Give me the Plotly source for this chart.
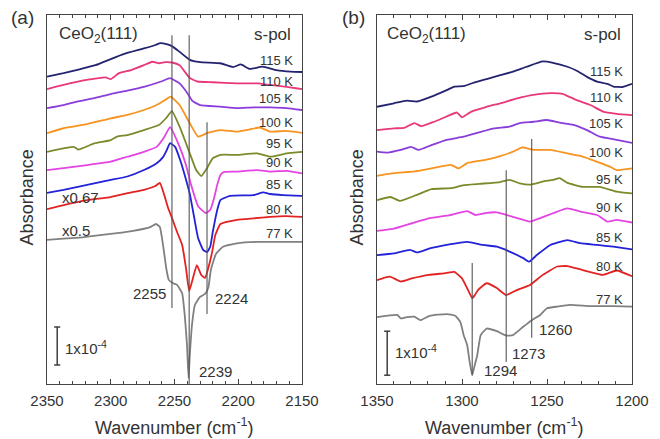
import plotly.graph_objects as go

FONT = "Liberation Sans, Arial, sans-serif"
TXT = "#333333"

TEMPS = ["115 K", "110 K", "105 K", "100 K", "95 K", "90 K", "85 K", "80 K", "77 K"]
COLORS = ["#23236f", "#e8387a", "#8a3ddb", "#f7931e", "#7b8b2b",
          "#e344e3", "#2222d8", "#e32222", "#808080"]

# ---------------- panel (a): CO region, absorbance in 1e-4 units (stacked) -------------
A_WN_115 = [2350, 2337, 2327, 2312, 2300, 2290, 2274, 2265, 2261, 2257, 2252, 2246, 2238, 2230,
            2214, 2204, 2198, 2191, 2181, 2170, 2159, 2150]
A_AB_115 = [8.09, 8.18, 8.26, 8.39, 8.55, 8.68, 8.83, 8.92, 8.97, 8.95, 8.89, 8.74, 8.53, 8.47,
            8.44, 8.34, 8.41, 8.29, 8.35, 8.26, 8.22, 8.21]

A_WN_110 = [2350, 2337, 2319, 2304, 2300, 2293.5, 2284, 2274, 2267.5, 2262, 2257.5, 2252, 2246,
            2238, 2232, 2220, 2201, 2185, 2175, 2162, 2150]
A_AB_110 = [7.76, 7.87, 8.00, 8.07, 8.02, 8.18, 8.26, 8.39, 8.48, 8.44, 8.47, 8.46, 8.39,
            8.05, 7.96, 7.94, 7.91, 7.91, 7.87, 7.82, 7.76]

A_WN_105 = [2350, 2337, 2326.5, 2313, 2300, 2287, 2274, 2260.5, 2253.5, 2246, 2240, 2236, 2230,
            2214, 2201, 2188, 2175, 2162, 2150]
A_AB_105 = [7.26, 7.34, 7.43, 7.52, 7.63, 7.72, 7.82, 7.96, 8.05, 7.91, 7.66, 7.45, 7.34,
            7.30, 7.26, 7.28, 7.28, 7.26, 7.21]

A_WN_100 = [2350, 2337, 2318.5, 2300, 2287, 2274, 2264, 2257.5, 2253, 2246, 2238, 2231.5, 2224.5,
            2214, 2201, 2191, 2183, 2175, 2163, 2150]
A_AB_100 = [6.60, 6.73, 6.84, 6.99, 7.08, 7.21, 7.34, 7.47, 7.56, 7.34, 6.86, 6.51, 6.60,
            6.68, 6.64, 6.70, 6.75, 6.64, 6.66, 6.61]

A_WN_95 = [2350, 2337, 2329, 2325.5, 2313, 2300, 2295, 2287, 2274, 2262, 2256.5, 2252, 2246,
           2238, 2233, 2229, 2224.5, 2220, 2214, 2201, 2185, 2175, 2162, 2150]
A_AB_95 = [6.11, 6.20, 6.24, 6.17, 6.33, 6.42, 6.51, 6.55, 6.68, 6.82, 7.00, 7.18, 6.77,
           6.07, 5.63, 5.47, 5.68, 5.94, 6.03, 6.03, 6.07, 5.98, 6.07, 6.11]

A_WN_90 = [2350, 2337, 2318.5, 2300, 2287, 2274, 2264, 2258, 2253.5, 2246, 2241, 2237, 2231.5,
           2225.5, 2222, 2219, 2216.5, 2214, 2211, 2201, 2185, 2175, 2162, 2150]
A_AB_90 = [5.63, 5.68, 5.76, 5.85, 5.98, 6.11, 6.24, 6.50, 6.76, 6.24, 5.76, 5.24, 4.68,
           4.50, 4.58, 4.89, 5.24, 5.50, 5.58, 5.59, 5.63, 5.59, 5.61, 5.54]

A_WN_85 = [2350, 2337, 2318.5, 2300, 2287, 2274, 2264, 2259, 2256, 2253.5, 2249.5, 2245.5,
           2242, 2238, 2234.5, 2231.5, 2227.5, 2224.5, 2222, 2220, 2216.5, 2214, 2206.5, 2188,
           2180.5, 2175, 2165, 2150]
A_AB_85 = [5.03, 5.11, 5.24, 5.37, 5.46, 5.63, 5.81, 5.97, 6.16, 6.34, 6.24, 5.89,
           5.50, 5.00, 4.37, 3.84, 3.53, 3.47, 3.61, 4.00, 4.58, 4.84, 4.95, 4.97,
           5.04, 5.00, 4.97, 4.95]

A_WN_80 = [2350, 2337, 2318.5, 2300, 2287, 2274, 2265, 2261.5, 2258, 2255, 2252, 2248, 2244,
           2241, 2238.5, 2235.5, 2232.5, 2229, 2226, 2223.5, 2220.5, 2218, 2214, 2201, 2188,
           2175, 2163, 2150]
A_AB_80 = [4.60, 4.71, 4.84, 4.92, 5.02, 5.11, 5.21, 5.29, 4.97, 4.63, 4.37, 4.00, 3.66,
           3.05, 2.45, 2.79, 3.13, 2.87, 2.79, 3.05, 3.47, 3.92, 4.21, 4.32, 4.36,
           4.40, 4.42, 4.40]

A_WN_77 = [2350, 2334.5, 2322, 2308.5, 2295, 2282.5, 2269, 2264.5, 2261.5, 2259, 2256.5, 2254.5,
           2251, 2248, 2244, 2242, 2240.2, 2239, 2238, 2236.3, 2234, 2230, 2226, 2223.5,
           2221.5, 2217.5, 2212, 2201, 2185, 2167, 2150]
A_AB_77 = [3.79, 3.83, 3.86, 3.92, 3.97, 4.03, 4.13, 4.21, 4.13, 3.66, 3.05, 2.74,
           2.65, 2.61, 2.39, 1.82, 1.03, 0.16, 0.76, 1.55, 2.08, 2.29, 2.37, 2.53,
           3.00, 3.42, 3.61, 3.70, 3.74, 3.74, 3.74]

A_WN = [A_WN_115, A_WN_110, A_WN_105, A_WN_100, A_WN_95, A_WN_90, A_WN_85, A_WN_80, A_WN_77]
A_AB = [A_AB_115, A_AB_110, A_AB_105, A_AB_100, A_AB_95, A_AB_90, A_AB_85, A_AB_80, A_AB_77]
A_LABEL_WN = 2155.5
A_LABEL_Y = [8.50, 7.97, 7.50, 6.89, 6.32, 5.82, 5.24, 4.58, 3.97]

A_PEAK_WN = [2252, 2238.5, 2224.5]
A_PEAK_TOP = [9.18, 9.18, 6.89]
A_PEAK_BOT = [2.00, 0.00, 1.84]
A_PEAK_TEXT = ["2255", "2239", "2224"]
A_PEAK_TEXT_WN = [2255, 2232.5, 2220]
A_PEAK_TEXT_Y = [2.37, 0.32, 2.26]
A_PEAK_ANCHOR = ["right", "left", "left"]

A_SCALE_TEXT = ["x0.67", "x0.5"]
A_SCALE_TEXT_Y = [4.92, 4.05]

A_BAR_WN = 2342
A_BAR_Y = [0.5, 1.5]
A_RANGE_Y = [0, 9.71]

# ---------------- panel (b): 1200-1350 region -------------
B_WN_115 = [1350, 1340, 1332.5, 1326.5, 1318, 1309, 1304.5, 1299, 1293, 1285.5, 1277.5, 1270,
            1262, 1252.5, 1246.5, 1238, 1232.5, 1226.5, 1220.5, 1214.5, 1211, 1205.5, 1200]
B_AB_115 = [6.30, 6.38, 6.44, 6.42, 6.53, 6.68, 6.76, 6.77, 6.85, 6.93, 7.02, 7.10,
            7.21, 7.33, 7.30, 7.21, 7.12, 6.98, 6.87, 6.82, 6.76, 6.75, 6.82]

B_WN_110 = [1350, 1340, 1334, 1328, 1324, 1316.5, 1309, 1303, 1300, 1294.5, 1285.5, 1277.5,
            1267.5, 1258, 1248, 1240.5, 1232.5, 1224.5, 1217, 1209, 1200]
B_AB_110 = [5.77, 5.81, 5.82, 5.93, 5.86, 5.96, 6.08, 6.17, 6.06, 6.19, 6.30, 6.38,
            6.49, 6.57, 6.61, 6.59, 6.45, 6.34, 6.19, 6.14, 6.11]

B_WN_105 = [1350, 1344, 1336, 1330, 1325.5, 1318, 1309, 1299, 1289, 1281, 1272, 1266,
            1258, 1250, 1242.5, 1234.5, 1226.5, 1219, 1209, 1200]
B_AB_105 = [5.28, 5.26, 5.32, 5.39, 5.32, 5.43, 5.55, 5.62, 5.73, 5.81, 5.85, 5.93,
            5.96, 6.00, 5.94, 5.89, 5.77, 5.62, 5.55, 5.48]

B_WN_100 = [1350, 1340, 1328, 1318, 1306.5, 1302, 1297, 1287, 1277.5, 1270, 1264.5, 1258,
            1248, 1238, 1229, 1220.5, 1213, 1209, 1200]
B_AB_100 = [4.73, 4.79, 4.83, 4.90, 4.98, 4.90, 5.02, 5.09, 5.18, 5.28, 5.38, 5.32,
            5.32, 5.24, 5.17, 5.05, 4.94, 4.86, 4.90]

B_WN_95 = [1350, 1342, 1336.5, 1326.5, 1318, 1306.5, 1299, 1289.5, 1277.5, 1272, 1266, 1260,
           1252.5, 1246.5, 1242.5, 1238, 1229, 1219, 1209, 1200]
B_AB_95 = [4.18, 4.25, 4.16, 4.30, 4.43, 4.45, 4.52, 4.55, 4.59, 4.64, 4.56, 4.53,
           4.60, 4.64, 4.68, 4.57, 4.48, 4.48, 4.37, 4.33]

B_WN_90 = [1350, 1340, 1330.5, 1319, 1307, 1297, 1292, 1285.5, 1279.5, 1273.5, 1267.5, 1260,
           1254, 1246.5, 1238, 1230.5, 1220.5, 1214.5, 1209, 1200]
B_AB_90 = [3.48, 3.53, 3.64, 3.77, 3.84, 3.93, 3.84, 3.89, 3.90, 3.84, 3.77, 3.69,
           3.77, 3.88, 3.99, 3.92, 3.84, 3.69, 3.73, 3.67]

B_WN_85 = [1350, 1340, 1330.5, 1326.5, 1319, 1309, 1297, 1287.5, 1279.5, 1272, 1264, 1260.5,
           1256, 1248, 1238, 1230.5, 1220.5, 1211, 1200]
B_AB_85 = [2.93, 2.97, 3.05, 2.99, 3.08, 3.16, 3.23, 3.16, 3.12, 3.01, 2.86, 2.78,
           2.93, 3.16, 3.27, 3.20, 3.16, 3.12, 3.06]

B_WN_80 = [1350, 1342.5, 1336, 1329.5, 1319.5, 1309.5, 1304.5, 1300, 1297, 1294, 1292.5, 1290.5,
           1285.5, 1279.5, 1274, 1267.5, 1260, 1252.5, 1244, 1238, 1229, 1217, 1209, 1200]
B_AB_80 = [2.36, 2.44, 2.33, 2.40, 2.48, 2.52, 2.55, 2.40, 2.18, 1.95, 2.02, 2.14,
           2.29, 2.18, 2.02, 2.14, 2.25, 2.48, 2.67, 2.68, 2.59, 2.48, 2.58, 2.45]

B_WN_77 = [1350, 1338, 1336, 1332.5, 1328, 1324.5, 1319, 1309, 1304, 1301, 1299, 1297, 1295.5,
           1294, 1292.5, 1291, 1289, 1285.5, 1279.5, 1274, 1270, 1264, 1259, 1254, 1250,
           1244, 1236.5, 1224.5, 1211, 1200]
B_AB_77 = [1.52, 1.57, 1.49, 1.52, 1.53, 1.45, 1.55, 1.59, 1.55, 1.41, 1.11, 0.89, 0.50,
           0.20, 0.43, 0.66, 1.11, 1.26, 1.20, 1.10, 1.11, 1.30, 1.45, 1.57, 1.72,
           1.76, 1.80, 1.77, 1.77, 1.76]

B_WN = [B_WN_115, B_WN_110, B_WN_105, B_WN_100, B_WN_95, B_WN_90, B_WN_85, B_WN_80, B_WN_77]
B_AB = [B_AB_115, B_AB_110, B_AB_105, B_AB_100, B_AB_95, B_AB_90, B_AB_85, B_AB_80, B_AB_77]
B_LABEL_WN = 1204
B_LABEL_Y = [7.11, 6.52, 5.93, 5.27, 4.64, 4.02, 3.32, 2.66, 1.93]

B_PEAK_WN = [1294, 1274, 1259]
B_PEAK_TOP = [2.75, 4.86, 5.57]
B_PEAK_BOT = [0.20, 0.50, 1.05]
B_PEAK_TEXT = ["1294", "1273", "1260"]
B_PEAK_TEXT_WN = [1288.2, 1271.8, 1255.9]
B_PEAK_TEXT_Y = [0.30, 0.70, 1.25]

B_BAR_WN = 1344
B_BAR_Y = [0.2, 1.2]
B_RANGE_Y = [0, 8.386]

A_TICKS = [2350, 2300, 2250, 2200, 2150]
B_TICKS = [1350, 1300, 1250, 1200]

fig = go.Figure()

for wn, ab, col, name in zip(A_WN, A_AB, COLORS, TEMPS):
    fig.add_trace(go.Scatter(x=wn, y=ab, mode="lines", name=name,
                             line=dict(color=col, width=1.8, shape="spline", smoothing=0.4),
                             xaxis="x", yaxis="y", showlegend=False))
for wn, ab, col, name in zip(B_WN, B_AB, COLORS, TEMPS):
    fig.add_trace(go.Scatter(x=wn, y=ab, mode="lines", name=name,
                             line=dict(color=col, width=1.8, shape="spline", smoothing=0.4),
                             xaxis="x2", yaxis="y2", showlegend=False))

shapes = []
annotations = []


def vline(xr, yr, x, y0, y1, color="#555555", w=1.1):
    shapes.append(dict(type="line", xref=xr, yref=yr, x0=x, x1=x, y0=y0, y1=y1,
                       line=dict(color=color, width=w)))


for x, t, b in zip(A_PEAK_WN, A_PEAK_TOP, A_PEAK_BOT):
    vline("x", "y", x, b, t)
for x, t, b in zip(B_PEAK_WN, B_PEAK_TOP, B_PEAK_BOT):
    vline("x2", "y2", x, b, t)

# scale bars
for xr, yr, bx, by, cap in [("x", "y", A_BAR_WN, A_BAR_Y, 2.4), ("x2", "y2", B_BAR_WN, B_BAR_Y, 1.8)]:
    vline(xr, yr, bx, by[0], by[1], color="#333333", w=1.4)
    for yy in by:
        shapes.append(dict(type="line", xref=xr, yref=yr, x0=bx - cap, x1=bx + cap, y0=yy, y1=yy,
                           line=dict(color="#333333", width=1.4)))


def ann(text, x, y, xref, yref, size, xanchor="center", yanchor="middle", angle=0):
    annotations.append(dict(text=text, x=x, y=y, xref=xref, yref=yref, showarrow=False,
                            xanchor=xanchor, yanchor=yanchor, textangle=angle,
                            font=dict(family=FONT, size=size, color=TXT)))


for name, yy in zip(TEMPS, A_LABEL_Y):
    ann(name, A_LABEL_WN, yy, "x", "y", 13, xanchor="right")
for name, yy in zip(TEMPS, B_LABEL_Y):
    ann(name, B_LABEL_WN, yy, "x2", "y2", 13, xanchor="right")

for t, x, y, a in zip(A_PEAK_TEXT, A_PEAK_TEXT_WN, A_PEAK_TEXT_Y, A_PEAK_ANCHOR):
    ann(t, x, y, "x", "y", 15, xanchor=a)
for t, x, y in zip(B_PEAK_TEXT, B_PEAK_TEXT_WN, B_PEAK_TEXT_Y):
    ann(t, x, y, "x2", "y2", 15, xanchor="left")

for t, y in zip(A_SCALE_TEXT, A_SCALE_TEXT_Y):
    ann(t, 2339.8, y, "x", "y", 15, xanchor="left")

ann("1x10<sup>-4</sup>", 2337.5, 0.97, "x", "y", 15, xanchor="left")
ann("1x10<sup>-4</sup>", 1340.6, 0.73, "x2", "y2", 15, xanchor="left")

# panel texts (paper coords)
ann("(a)", 0.034, 0.994, "paper", "paper", 19)
ann("(b)", 0.5356, 0.994, "paper", "paper", 19)
ann("CeO<sub>2</sub>(111)", 0.0864, 0.9458, "paper", "paper", 17, xanchor="left")
ann("CeO<sub>2</sub>(111)", 0.5833, 0.9458, "paper", "paper", 17, xanchor="left")
ann("s-pol", 0.4439, 0.9458, "paper", "paper", 17, xanchor="right")
ann("s-pol", 0.9439, 0.9458, "paper", "paper", 17, xanchor="right")
ann("Absorbance", 0.0405, 0.505, "paper", "paper", 18, angle=-90)
ann("Absorbance", 0.5405, 0.505, "paper", "paper", 18, angle=-90)
ann("Wavenumber (cm<sup>-1</sup>)", 0.2644, -0.116, "paper", "paper", 18)
ann("Wavenumber (cm<sup>-1</sup>)", 0.7644, -0.116, "paper", "paper", 18)

xcommon = dict(showline=True, linecolor="#444444", linewidth=1.3, mirror="allticks",
               ticks="inside", ticklen=5, tickwidth=1.1, tickcolor="#444444",
               showgrid=False, zeroline=False, automargin=False, ticklabelstandoff=3,
               tickfont=dict(family=FONT, size=15, color=TXT),
               minor=dict(ticks="inside", ticklen=3, tickwidth=1, tickcolor="#444444", dtick=10,
                          showgrid=False))
ycommon = dict(showline=True, linecolor="#444444", linewidth=1.3, mirror=True,
               ticks="", showticklabels=False, showgrid=False, zeroline=False, automargin=False)

fig.update_layout(
    width=660, height=439,
    margin=dict(l=0, r=0, t=15, b=55),
    paper_bgcolor="white", plot_bgcolor="white",
    xaxis=dict(domain=[0.0712, 0.4576], range=[2350, 2150], tickvals=A_TICKS, anchor="y", **xcommon),
    yaxis=dict(domain=[0, 1], range=A_RANGE_Y, anchor="x", **ycommon),
    xaxis2=dict(domain=[0.5712, 0.9576], range=[1350, 1200], tickvals=B_TICKS, anchor="y2", **xcommon),
    yaxis2=dict(domain=[0, 1], range=B_RANGE_Y, anchor="x2", **ycommon),
    shapes=shapes, annotations=annotations,
)

fig.write_html("out.html")
